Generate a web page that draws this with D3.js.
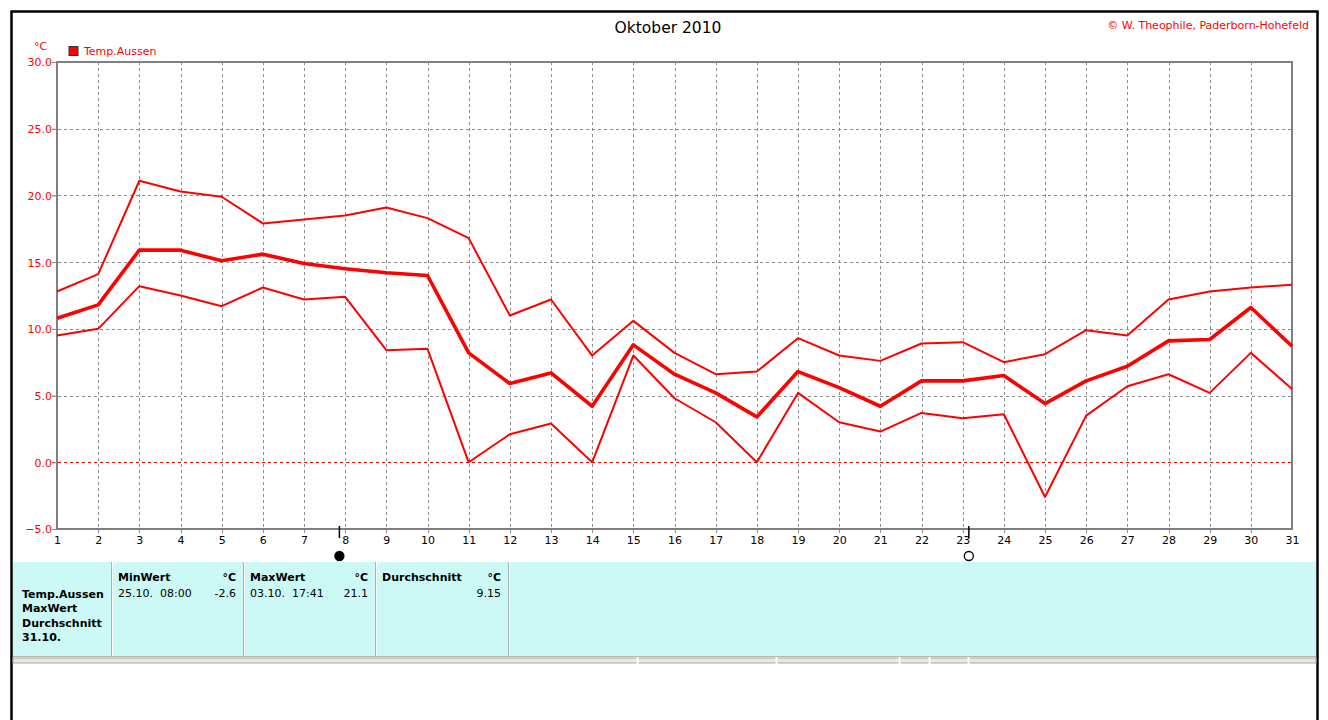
<!DOCTYPE html>
<html>
<head>
<meta charset="utf-8">
<script src="https://cdn.jsdelivr.net/npm/d3@7"></script>
<style>
    body { margin: 0; background: #fff; }
    svg { display: block; font-family: "DejaVu Sans", sans-serif; }
    text { white-space: pre; }
</style>
</head>
<body>
<div id="chart"></div>
<script>
var days = [1, 2, 3, 4, 5, 6, 7, 8, 9, 10, 11, 12, 13, 14, 15, 16,
    17, 18, 19, 20, 21, 22, 23, 24, 25, 26, 27, 28, 29, 30, 31];

// daily max / mean / min of Temp.Aussen (°C)
var tempMax = [12.8, 14.1, 21.1, 20.3, 19.9, 17.9, 18.2, 18.5, 19.1, 18.3, 16.8,
    11.0, 12.2, 8.0, 10.6, 8.2, 6.6, 6.8, 9.3, 8.0, 7.6, 8.9, 9.0, 7.5, 8.1,
    9.9, 9.5, 12.2, 12.8, 13.1, 13.3];
var tempAvg = [10.8, 11.8, 15.9, 15.9, 15.1, 15.6, 14.9, 14.5, 14.2, 14.0, 8.2,
    5.9, 6.7, 4.2, 8.8, 6.6, 5.2, 3.4, 6.8, 5.6, 4.2, 6.1, 6.1, 6.5, 4.4,
    6.1, 7.2, 9.1, 9.2, 11.6, 8.7];
var tempMin = [9.5, 10.0, 13.2, 12.5, 11.7, 13.1, 12.2, 12.4, 8.4, 8.5, 0.0,
    2.1, 2.9, 0.0, 8.0, 4.8, 3.0, 0.0, 5.2, 3.0, 2.3, 3.7, 3.3, 3.6, -2.6,
    3.5, 5.7, 6.6, 5.2, 8.2, 5.5];

var yTicks = [30, 25, 20, 15, 10, 5, 0, -5];

// moon phases (day of month, local time)
var moonDays = [7.86, 23.15];
var moonTypes = ['new', 'full'];

// statistics table
var statLabels = ['Temp.Aussen', 'MaxWert', 'Durchschnitt', '31.10.'];
var statHeads = ['MinWert', 'MaxWert', 'Durchschnitt'];
var statUnits = ['°C', '°C', '°C'];
var statTimes = ['25.10.  08:00', '03.10.  17:41', ''];
var statValues = ['-2.6', '21.1', '9.15'];

var W = 1328, H = 720;
var margin = { top: 62, left: 57 },
    width = 1235,
    height = 467;

var red = '#ff0000', grid = '#8c8c8c';

var svg = d3.select('#chart').append('svg')
    .attr('width', W)
    .attr('height', H);

// outer frame
svg.append('path')
    .attr('d', 'M11.5,' + H + 'V11.5H1317.5V' + H)
    .attr('fill', 'none')
    .attr('stroke', '#000')
    .attr('stroke-width', 2.5);

// title and credit
svg.append('text')
    .attr('x', 668).attr('y', 33)
    .attr('text-anchor', 'middle')
    .attr('font-size', 15.5)
    .attr('fill', '#000')
    .text('Oktober 2010');

svg.append('text')
    .attr('x', 1309).attr('y', 29)
    .attr('text-anchor', 'end')
    .attr('font-size', 11)
    .attr('fill', red)
    .text('© W. Theophile, Paderborn-Hohefeld');

// unit + legend
svg.append('text')
    .attr('x', 34).attr('y', 50)
    .attr('font-size', 11)
    .attr('fill', red)
    .text('°C');

svg.append('rect')
    .attr('x', 69).attr('y', 46.5)
    .attr('width', 9).attr('height', 9)
    .attr('fill', red)
    .attr('stroke', '#333');

svg.append('text')
    .attr('x', 84).attr('y', 55)
    .attr('font-size', 11)
    .attr('fill', red)
    .text('Temp.Aussen');

var canvas = svg.append('g')
    .attr('transform', 'translate(' + margin.left + ',' + margin.top + ')');

var xScale = d3.scaleLinear()
    .domain([days[0], days[days.length - 1]])
    .range([0, width]);

var yScale = d3.scaleLinear()
    .domain([-5, 30])
    .range([height, 0]);

// vertical grid
canvas.append('g')
    .selectAll('line')
    .data(days.slice(1, -1))
    .enter().append('line')
    .attr('x1', function (d) { return Math.round(xScale(d)) + 0.5; })
    .attr('x2', function (d) { return Math.round(xScale(d)) + 0.5; })
    .attr('y1', 0)
    .attr('y2', height + 4)
    .attr('stroke', grid)
    .attr('stroke-dasharray', '3,3');

// horizontal grid
canvas.append('g')
    .selectAll('line')
    .data(yTicks.slice(1, -1))
    .enter().append('line')
    .attr('x1', -5)
    .attr('x2', width)
    .attr('y1', function (d) { return Math.round(yScale(d)) + 0.5; })
    .attr('y2', function (d) { return Math.round(yScale(d)) + 0.5; })
    .attr('stroke', function (d) { return d === 0 ? red : grid; })
    .attr('stroke-dasharray', '3,3');

// y axis labels
var yAxis = d3.axisLeft(yScale)
    .tickValues(yTicks)
    .tickSize(5)
    .tickFormat(d3.format('.1f'));

var yG = canvas.append('g').call(yAxis);
yG.select('.domain').remove();
yG.selectAll('.tick line').attr('stroke', grid);
yG.selectAll('.tick text')
    .attr('fill', red)
    .attr('font-size', 11)
    .attr('font-family', '"DejaVu Sans", sans-serif')
    .attr('x', -5)
    .attr('dy', '0.35em');

// x axis labels
var xAxis = d3.axisBottom(xScale)
    .tickValues(days)
    .tickSize(0)
    .tickFormat(d3.format('d'));

var xG = canvas.append('g')
    .attr('transform', 'translate(0,' + height + ')')
    .call(xAxis);
xG.select('.domain').remove();
xG.selectAll('.tick text')
    .attr('fill', '#000')
    .attr('font-size', 11)
    .attr('font-family', '"DejaVu Sans", sans-serif')
    .attr('y', 7)
    .attr('dy', '0.71em');

// plot border
canvas.append('rect')
    .attr('x', 0).attr('y', 0)
    .attr('width', width).attr('height', height)
    .attr('fill', 'none')
    .attr('stroke', '#808080')
    .attr('stroke-width', 2);

// data lines
var line = d3.line()
    .x(function (d, i) { return xScale(days[i]); })
    .y(function (d) { return yScale(d); });

[[tempMax, 2], [tempMin, 2], [tempAvg, 3.6]].forEach(function (s) {
    canvas.append('path')
        .datum(s[0])
        .attr('d', line)
        .attr('fill', 'none')
        .attr('stroke', red)
        .attr('stroke-width', s[1])
        .attr('stroke-linejoin', 'round');
});

// moon phase markers
moonDays.forEach(function (d, i) {
    var mx = xScale(d);
    canvas.append('line')
        .attr('x1', mx).attr('x2', mx)
        .attr('y1', height - 3).attr('y2', height + 9)
        .attr('stroke', '#000')
        .attr('stroke-width', 1.5);
    canvas.append('circle')
        .attr('cx', mx).attr('cy', height + 27)
        .attr('r', 4.5)
        .attr('fill', moonTypes[i] === 'new' ? '#000' : 'none')
        .attr('stroke', '#000')
        .attr('stroke-width', 1.3);
});

// statistics table
var tableTop = 562, tableBottom = 656;
svg.append('rect')
    .attr('x', 13).attr('y', tableTop)
    .attr('width', 1303).attr('height', tableBottom - tableTop)
    .attr('fill', '#ccf9f6');

var colX = [111, 243, 375, 508];
colX.forEach(function (cx) {
    svg.append('line')
        .attr('x1', cx + 0.5).attr('x2', cx + 0.5)
        .attr('y1', tableTop).attr('y2', tableBottom)
        .attr('stroke', '#a8b4b4');
    svg.append('line')
        .attr('x1', cx + 1.5).attr('x2', cx + 1.5)
        .attr('y1', tableTop).attr('y2', tableBottom)
        .attr('stroke', '#fff');
});

statLabels.forEach(function (t, i) {
    svg.append('text')
        .attr('x', 22).attr('y', 598 + i * 14.4)
        .attr('font-size', 11)
        .attr('font-weight', 'bold')
        .attr('fill', '#000')
        .text(t);
});

statHeads.forEach(function (t, i) {
    var left = colX[i] + 7, right = colX[i + 1] - 7;
    svg.append('text')
        .attr('x', left).attr('y', 581)
        .attr('font-size', 11).attr('font-weight', 'bold')
        .text(t);
    svg.append('text')
        .attr('x', right).attr('y', 581)
        .attr('text-anchor', 'end')
        .attr('font-size', 11).attr('font-weight', 'bold')
        .text(statUnits[i]);
    svg.append('text')
        .attr('x', left).attr('y', 597)
        .attr('font-size', 11)
        .text(statTimes[i]);
    svg.append('text')
        .attr('x', right).attr('y', 597)
        .attr('text-anchor', 'end')
        .attr('font-size', 11)
        .text(statValues[i]);
});

// status bar strip below table
svg.append('line')
    .attr('x1', 13).attr('x2', 1316)
    .attr('y1', 656.5).attr('y2', 656.5)
    .attr('stroke', '#b8b8b8');
svg.append('rect')
    .attr('x', 13).attr('y', 658)
    .attr('width', 1303).attr('height', 5)
    .attr('fill', '#ece9d8')
    .attr('stroke', '#a8a8a0')
    .attr('stroke-width', 1);
[637, 776, 899, 929, 968].forEach(function (sx) {
    svg.append('line')
        .attr('x1', sx + 0.5).attr('x2', sx + 0.5)
        .attr('y1', 657).attr('y2', 664)
        .attr('stroke', '#fff')
        .attr('stroke-width', 2);
});
</script>
</body>
</html>
